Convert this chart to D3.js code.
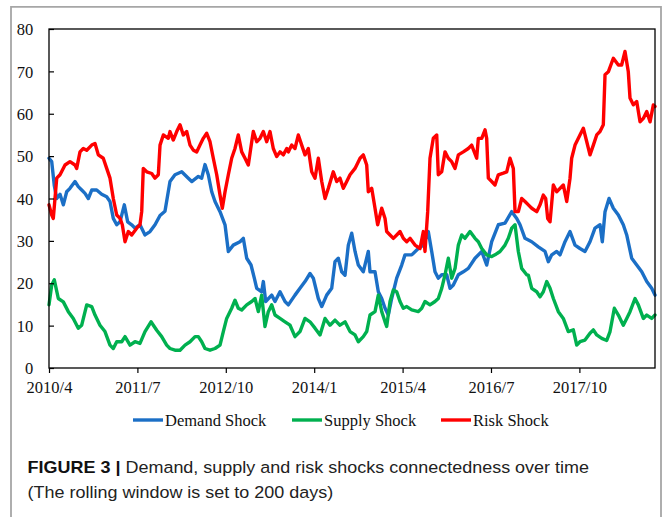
<!DOCTYPE html>
<html>
<head>
<meta charset="utf-8">
<script src="https://cdn.jsdelivr.net/npm/d3@7"></script>
<style>
  html, body { margin: 0; padding: 0; background: #fff; }
  svg { display: block; }
</style>
</head>
<body>
<svg id="chart" width="664" height="517"></svg>
<script>
// ---- data: time in months since 2010/4 ----
const tickMonths = [0, 15, 30, 45, 60, 75, 90];
const tickLabels = ["2010/4", "2011/7", "2012/10", "2014/1", "2015/4", "2016/7", "2017/10"];
const yTicks = [0, 10, 20, 30, 40, 50, 60, 70, 80];
const seriesNames = ["Demand Shock", "Supply Shock", "Risk Shock"];
const seriesColors = ["#1b6fc6", "#00b04f", "#ff0000"];
const lastMonth = 102.83;

const demandT = [0,0.46,0.9,1.31,1.87,2.43,3.0,3.56,4.41,4.97,5.55,6.11,6.67,7.25,8.09,8.94,9.79,10.35,10.91,11.49,
  12.05,12.78,13.35,14.03,14.59,15.44,16.29,17.14,17.99,18.84,19.68,20.53,21.38,22.52,23.64,24.22,25.34,25.91,26.47,27.03,
  27.61,28.17,29.02,29.87,30.43,31.27,32.41,32.97,33.55,34.28,34.84,35.25,36.09,36.37,36.77,37.79,38.35,39.2,40.05,40.61,
  41.74,42.59,43.44,44.29,44.85,45.7,46.28,47.12,47.97,48.53,49.09,49.67,50.23,50.79,51.37,51.93,52.49,53.33,54.18,54.47,
  55.32,55.88,56.46,57.02,57.58,58.15,59.0,59.85,60.41,61.55,62.67,63.52,64.36,64.94,65.5,66.06,66.64,67.49,68.05,68.61,
  69.46,70.3,71.15,72.29,73.43,74.27,75.12,76.24,77.38,78.52,79.37,79.93,80.77,81.91,83.03,84.17,84.73,85.31,86.15,86.71,
  87.56,88.41,89.26,90.1,90.95,91.8,92.65,93.5,93.89,94.35,95.03,95.76,96.61,97.45,98.03,98.88,99.73,100.58,101.43,102.27,102.83];
const demandV = [49.5,48.7,43,40,41,38.5,41.6,42.4,44,42.8,42,41.2,40,42,42,41,40.4,39.3,35.3,33.8,
  34.5,38.5,34.5,33.8,33,33.8,31.4,32.2,33.8,36,37,44,45.6,46.3,44.8,44,45.2,44.8,48,45.6,
  41.6,39.3,36.9,33.8,27.5,29,29.8,30.6,25.9,24.3,21.2,18.8,18,20.4,15.7,17.2,15.7,18,15.7,14.9,
  17.2,18.8,20.4,22.3,21.2,16.4,14.5,17.2,18.8,25.1,25.9,22.7,21.9,29,31.8,27.5,24.3,22.7,27.5,22.7,
  22.7,18,16.4,14.1,12.5,16.4,21.2,24.3,26.7,26.7,28.2,29,32.2,27.5,22.7,21.2,22,22,18.8,19.6,
  22,22.7,23.5,25.9,27.5,24.3,29.8,33.8,34.2,36.9,35.3,33.8,30.6,29.8,28.6,27.5,25.1,26.7,27.5,26.7,
  29.8,32.2,29,28.2,27.5,29.8,33,33.8,29.8,36.9,40,37.7,36.1,33.8,31.4,25.9,24.3,22.7,20.4,18.8,17.2];

const supplyT = [0,0.46,0.9,1.58,2.43,3.28,4.12,4.97,5.55,6.4,7.25,7.81,8.65,9.5,10.35,10.91,11.49,12.34,12.9,13.75,
  14.59,15.44,16.29,17.31,18.28,19.12,19.97,20.53,21.38,22.23,23.08,23.93,24.78,25.34,25.91,26.47,27.32,28.17,29.02,29.58,
  30.15,31.0,31.56,32.12,32.7,33.55,34.4,34.96,35.52,36.09,36.65,37.21,37.79,38.35,39.2,40.05,40.9,41.74,42.59,43.44,
  44.29,45.14,45.99,46.84,47.68,48.53,49.38,50.23,51.08,51.93,52.49,53.33,53.91,54.47,55.32,55.88,56.46,57.02,57.3,57.87,
  58.43,59.0,59.56,60.12,60.7,61.55,62.67,63.25,63.8,64.65,65.5,66.06,66.64,67.2,67.76,68.33,68.9,69.46,70.03,70.59,
  71.44,72.29,72.85,73.43,74.27,75.12,75.68,76.53,77.38,77.94,78.52,79.08,79.64,80.21,81.06,81.34,81.91,82.76,83.32,83.88,
  84.46,85.02,85.58,86.43,87.27,88.12,88.97,89.55,90.1,90.95,91.8,92.37,92.94,93.79,94.64,95.2,95.93,96.61,97.45,98.03,
  98.59,99.44,100.0,100.85,101.43,102.27,102.83];
const supplyV = [14.9,19.6,20.8,16.4,15.6,13.3,11.7,9.4,10.1,14.9,14.5,12.5,10.1,8.6,5.4,4.6,6.2,6.2,7.4,5.4,
  6.2,5.8,8.6,10.9,8.9,7.4,5.4,4.6,4.2,4.2,5.4,6.2,7.4,7.4,6.2,4.6,4.2,4.6,5.4,8.6,
  11.7,14.1,16,14.1,13.7,14.9,15.7,16.4,13.3,17.2,9.8,13.3,14.9,12.5,11.7,10.9,10.1,7.4,8.6,11.7,
  10.9,9.4,7.8,11.7,10.1,11.3,10.1,10.9,8.6,7.8,6.2,7.4,8.6,12.5,13.3,17.2,13.3,10.9,9.8,15.7,
  18.4,18,15.7,14.1,14.5,13.7,13.3,14.1,15.7,14.9,15.7,16.4,18.8,22,25.9,21.2,23.5,29,31.4,30.6,
  32.2,30.6,29.8,28.2,26.7,26.3,26.7,27.5,29,30.6,33,33.8,27.5,23.5,22,21.9,18.8,18,16.8,18,
  20.4,18.8,16.4,13.3,11.7,8.6,9,5.4,6.2,6.6,8.2,9,7.8,7,6.5,8.6,14.1,12.5,10.1,11.7,
  13.3,16.4,14.9,11.7,12.5,11.7,12.5];

const riskT = [0,0.46,0.73,1.31,1.87,2.72,3.56,4.41,4.7,5.26,5.82,6.4,7.25,7.81,8.37,9.21,9.79,10.35,10.91,11.49,
  12.05,12.44,12.9,13.46,14.03,14.88,15.44,15.73,16.0,16.58,17.43,17.99,18.55,18.84,19.4,20.24,20.53,21.09,21.67,22.23,
  22.79,23.37,23.93,24.49,25.06,25.62,26.18,26.76,27.32,27.88,28.46,29.02,29.41,29.87,30.43,31.0,31.56,32.12,32.7,33.26,
  33.82,34.4,34.67,35.25,35.81,36.37,36.94,37.5,38.06,38.64,39.2,39.76,40.34,40.61,41.19,41.74,42.31,42.88,43.44,44.0,
  44.58,45.14,45.7,46.28,46.84,47.4,48.24,48.82,49.38,49.94,50.52,51.08,51.93,52.78,53.33,53.91,54.18,54.76,55.32,55.77,
  56.46,57.02,57.3,57.87,58.43,59.0,59.56,60.12,60.7,61.26,62.11,62.96,63.52,63.8,64.26,64.65,65.21,65.79,66.06,66.64,
  67.2,67.76,68.33,68.9,69.46,70.3,71.15,71.72,72.57,72.85,73.43,73.99,74.27,74.55,75.12,75.68,76.24,77.09,77.67,78.23,
  78.79,79.08,79.64,80.21,80.77,81.34,81.91,82.76,83.32,83.88,84.28,84.62,85.02,85.58,86.15,86.71,87.27,87.85,88.41,88.69,
  89.26,90.1,90.67,91.25,91.8,92.37,92.94,93.5,94.06,94.35,94.91,95.76,96.61,97.17,97.74,98.3,98.59,99.15,99.73,100.29,
  100.85,101.43,101.99,102.55,102.83];
const riskV = [38.5,36.1,35.3,44.8,45.6,47.9,48.7,47.9,47.1,51,51.8,51.4,52.6,53,50.3,49.5,47.1,44.8,40,36.1,
  35.3,33.8,29.8,32.2,31.4,33,33.8,36.9,47.1,46.3,45.9,44.8,45.6,52.6,55,54.2,55.8,53.8,55.8,57.4,
  55,55.8,52.6,51.4,51,52.6,54.2,55.4,53.4,49.5,45.6,40.8,37.7,41.6,45.6,49.5,51.8,55,51,49.5,
  47.9,53.4,55.8,53.4,54.2,55.8,53.4,55.8,51.8,49.9,51,50.3,51.8,51,52.6,51.8,55,52.6,50.3,51.8,
  46.3,44.8,49.5,44,40,42.4,46.3,44,44.8,42.4,44,45.6,47.1,49.5,50.3,47.9,41.6,42.4,37.7,33.8,
  37.7,35.3,32.2,31.4,30.6,31.4,32.2,30.6,29.8,30.6,29,28.2,32.2,27.5,36.9,49.5,54.2,55,45.6,46.3,
  51,49.5,48.7,47.1,50.3,51,51.8,52.6,49.5,54.2,54.2,56.2,54.2,44.8,44,43.2,45.6,46,46.3,49.5,
  47.1,36.9,36.9,40,39.3,38.5,37.7,36.9,38.5,40.8,40,35.3,34.5,43.2,41.6,42.4,43.2,39.3,44.8,49.5,
  52.6,55,56.6,53.4,50.3,52.6,55,55.8,57.4,69.2,69.9,73.1,71.5,71.5,74.7,69.9,63.7,62.1,62.9,58.1,
  58.9,60.5,58.1,62.1,61.7];

const captionBold = "FIGURE 3 | ";
const captionLine1 = "Demand, supply and risk shocks connectedness over time";
const captionLine2 = "(The rolling window is set to 200 days)";

// ---- drawing ----
(function () {
const svg = d3.select("#chart");
const serif = "'Liberation Serif', 'Times New Roman', serif";
const sans = "'Liberation Sans', Arial, sans-serif";

const pL = 49, pR = 655, pT = 29, pB = 368;
const x = d3.scaleLinear().domain([0, lastMonth]).range([pL, pR]);
const y = d3.scaleLinear().domain([0, 80]).range([pB, pT]);

// outer frame
svg.append("path")
  .attr("d", `M11,530 L11,6.8 L661,6.8 L661,530`)
  .attr("fill", "none").attr("stroke", "#a6a6a6").attr("stroke-width", 1.8);

// series
const allSeries = [[demandT, demandV], [supplyT, supplyV], [riskT, riskV]];
allSeries.forEach(([ts, vs], k) => {
  const pts = ts.map((t, i) => [t, vs[i]]);
  const line = d3.line().x(d => x(d[0])).y(d => y(d[1]));
  svg.append("path")
    .datum(pts)
    .attr("d", line)
    .attr("fill", "none")
    .attr("stroke", seriesColors[k])
    .attr("stroke-width", 3.4)
    .attr("stroke-linejoin", "round")
    .attr("stroke-linecap", "round");
});

// plot box
svg.append("rect")
  .attr("x", pL).attr("y", pT)
  .attr("width", pR - pL).attr("height", pB - pT)
  .attr("fill", "none").attr("stroke", "#000").attr("stroke-width", 1.3);

// y axis
const yAxis = d3.axisLeft(y).tickValues(yTicks).tickSizeInner(-5).tickSizeOuter(0).tickPadding(15.7);
const gy = svg.append("g").attr("transform", `translate(${pL},0)`).call(yAxis);
gy.select(".domain").remove();
gy.selectAll("line").attr("stroke", "#000").attr("stroke-width", 1.2);
gy.selectAll("text").attr("font-family", serif).attr("font-size", 16.5).attr("fill", "#111").attr("dy", "0.34em");

// x axis
const xAxis = d3.axisBottom(x).tickValues(tickMonths)
  .tickFormat((d, i) => tickLabels[i]).tickSizeInner(5).tickSizeOuter(0).tickPadding(8);
const gx = svg.append("g").attr("transform", `translate(0,${pB})`).call(xAxis);
gx.select(".domain").remove();
gx.selectAll("line").attr("stroke", "#000").attr("stroke-width", 1.2);
gx.selectAll("text").attr("font-family", serif).attr("font-size", 16.5).attr("fill", "#111");

// legend
const legendX = [133, 292, 441];
const legY = 420;
seriesNames.forEach((name, k) => {
  const g = svg.append("g").attr("transform", `translate(${legendX[k]},${legY})`);
  g.append("line").attr("x1", 0).attr("x2", 30).attr("y1", 0).attr("y2", 0)
    .attr("stroke", seriesColors[k]).attr("stroke-width", 3.4);
  g.append("text").attr("x", 32).attr("y", 6)
    .attr("font-family", serif).attr("font-size", 16.5).attr("fill", "#111").text(name);
});

// caption
const cap = svg.append("g").attr("transform", "translate(27.5,0) scale(1.09,1)");
const t1 = cap.append("text").attr("x", 0).attr("y", 473)
  .attr("font-family", sans).attr("font-size", 16.5).attr("fill", "#222");
t1.append("tspan").attr("font-weight", "bold").attr("fill", "#111").text(captionBold);
t1.append("tspan").text(captionLine1);
cap.append("text").attr("x", 0).attr("y", 498)
  .attr("font-family", sans).attr("font-size", 16.5).attr("fill", "#222").text(captionLine2);
})();
</script>
</body>
</html>
